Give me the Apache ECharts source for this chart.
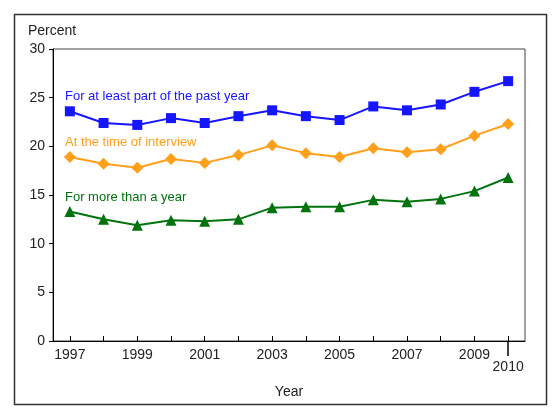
<!DOCTYPE html>
<html>
<head>
<meta charset="utf-8">
<script src="https://cdn.jsdelivr.net/npm/echarts@6/dist/echarts.min.js"></script>
<style>
  html, body { margin: 0; padding: 0; background: #fff; }
  #chart { width: 560px; height: 420px; }
</style>
</head>
<body>
<div id="chart"></div>
<script>
// years on the x axis
const years = ['1997', '1998', '1999', '2000', '2001', '2002', '2003',
               '2004', '2005', '2006', '2007', '2008', '2009', '2010'];
// percent uninsured
const partOfYear = [23.6, 22.4, 22.2, 22.9, 22.4, 23.1, 23.7, 23.1, 22.7, 24.1, 23.7, 24.3, 25.6, 26.7];
const atInterview = [18.9, 18.2, 17.8, 18.7, 18.3, 19.1, 20.1, 19.3, 18.9, 19.8, 19.4, 19.7, 21.1, 22.3];
const moreThanYear = [13.3, 12.5, 11.9, 12.4, 12.3, 12.5, 13.7, 13.8, 13.8, 14.5, 14.3, 14.6, 15.4, 16.8];
const seriesNames = ['For at least part of the past year', 'At the time of interview', 'For more than a year'];

const font = 'Liberation Sans';
const blue = '#1515ff', orange = '#ff9f1a', green = '#00730d';

let myChart = echarts.init(document.getElementById('chart'));

myChart.setOption({
    animation: false,
    textStyle: {fontFamily: font},
    grid: {
        left: 53, right: 35, top: 49, bottom: 79,
        show: true, borderColor: '#444', borderWidth: 1
    },
    xAxis: [
        {
            type: 'category',
            data: years,
            boundaryGap: true,
            name: 'Year',
            nameLocation: 'middle',
            nameGap: 44,
            nameTextStyle: {fontSize: 14, color: '#222', fontFamily: font},
            axisLine: {show: true, lineStyle: {color: '#000', width: 1}},
            axisTick: {show: true, inside: true, alignWithLabel: true, interval: 0, length: 5,
                       lineStyle: {color: '#000', width: 1}},
            axisLabel: {
                interval: 0,
                margin: 8,
                fontSize: 14,
                fontFamily: font,
                color: '#222',
                lineHeight: 12,
                formatter: function (v, i) {
                    if (v === '2010') return '\n2010';
                    return i % 2 === 0 ? v : '';
                }
            }
        },
        {
            // long tick under 2010 only
            type: 'category',
            data: years,
            boundaryGap: true,
            position: 'bottom',
            axisLine: {show: false},
            axisLabel: {show: false},
            axisTick: {
                show: true,
                alignWithLabel: true,
                length: 15,
                lineStyle: {color: '#000', width: 1.5},
                interval: function (i) { return i === years.length - 1; }
            }
        }
    ],
    yAxis: {
        type: 'value',
        min: 0, max: 30, interval: 5,
        axisLine: {show: true, lineStyle: {color: '#000', width: 1}},
        axisTick: {show: true, length: 4, lineStyle: {color: '#000', width: 1}},
        splitLine: {show: false},
        axisLabel: {fontSize: 14, fontFamily: font, color: '#222', margin: 8}
    },
    graphic: [
        {type: 'rect', shape: {x: 14.5, y: 14.5, width: 532, height: 390},
         style: {fill: 'none', stroke: '#333', lineWidth: 1.5}},
        {type: 'text', left: 28, top: 24,
         style: {text: 'Percent', fontSize: 14, fill: '#222', fontFamily: font}},
        {type: 'text', left: 65, top: 90,
         style: {text: seriesNames[0], fontSize: 13, fill: blue, fontFamily: font}},
        {type: 'text', left: 65, top: 136,
         style: {text: seriesNames[1], fontSize: 13, fill: orange, fontFamily: font}},
        {type: 'text', left: 65, top: 191,
         style: {text: seriesNames[2], fontSize: 13, fill: green, fontFamily: font}}
    ],
    series: [
        {
            name: seriesNames[0], type: 'line', data: partOfYear,
            symbol: 'rect', symbolSize: 10,
            itemStyle: {color: blue}, lineStyle: {color: blue, width: 2}
        },
        {
            name: seriesNames[1], type: 'line', data: atInterview,
            symbol: 'diamond', symbolSize: 12,
            itemStyle: {color: orange}, lineStyle: {color: orange, width: 2}
        },
        {
            name: seriesNames[2], type: 'line', data: moreThanYear,
            symbol: 'triangle', symbolSize: 11,
            itemStyle: {color: green}, lineStyle: {color: green, width: 2}
        }
    ]
});
</script>
</body>
</html>
